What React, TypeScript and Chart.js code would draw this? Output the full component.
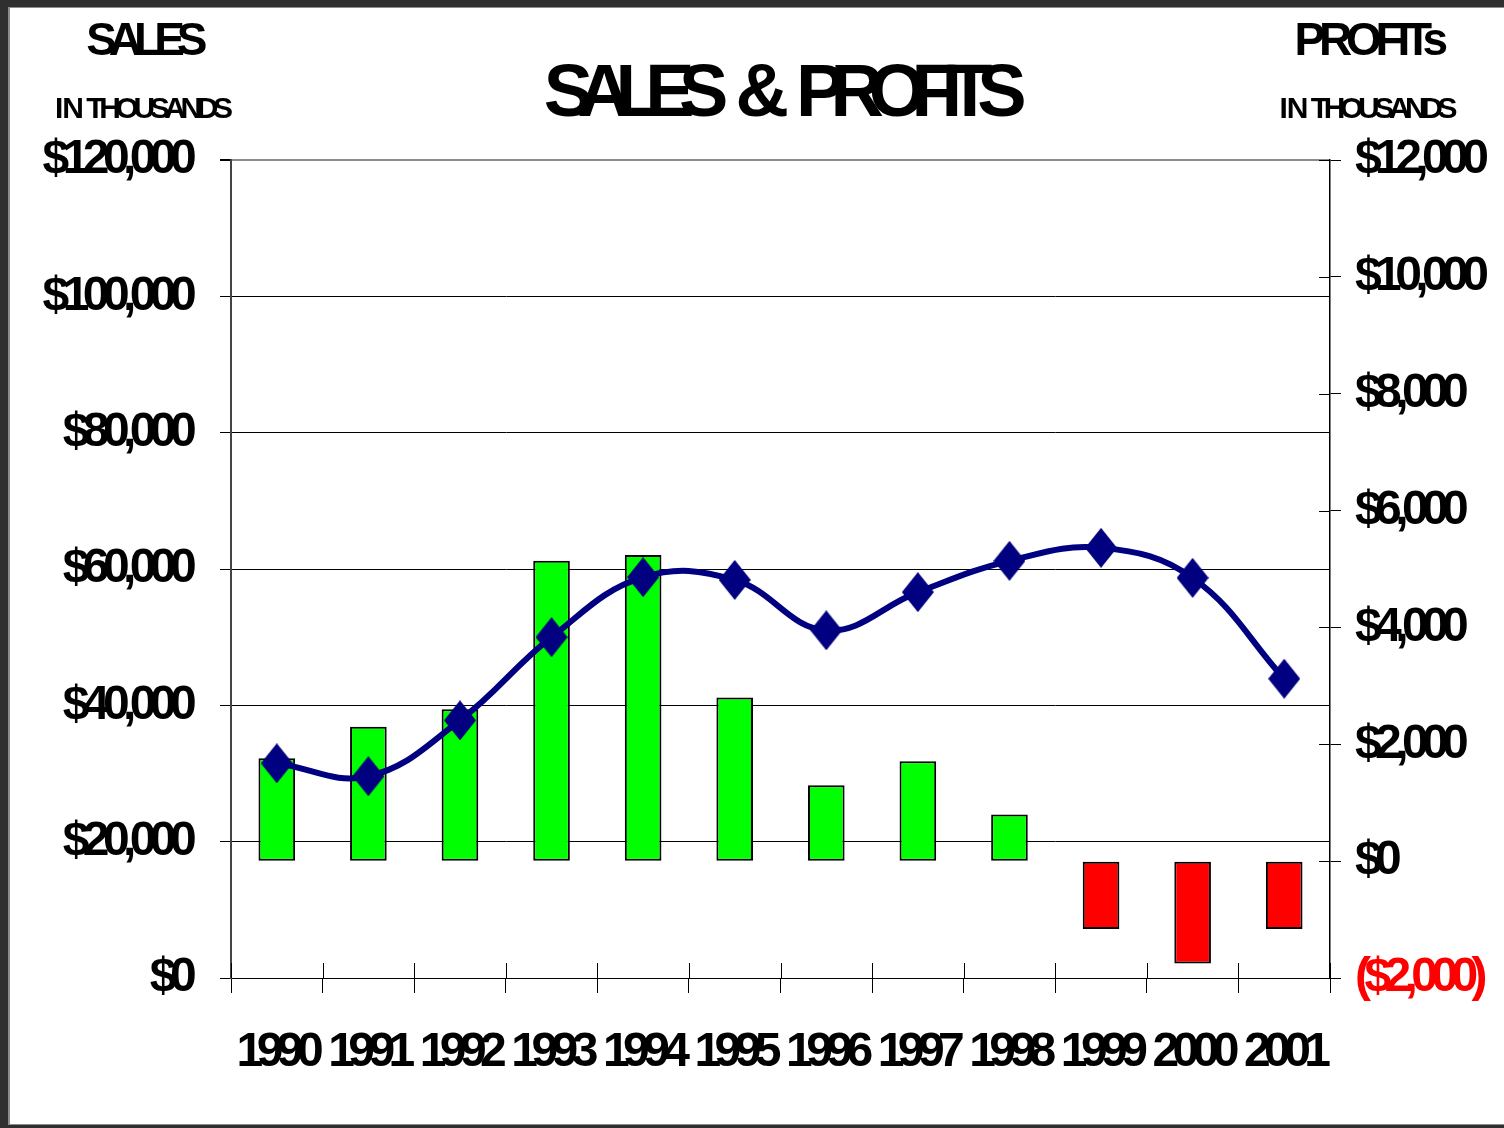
import React, { useEffect, useRef } from 'react';
import { Chart, registerables } from 'chart.js';

Chart.register(...registerables);

// ---- Data ----
const years = ['1990', '1991', '1992', '1993', '1994', '1995', '1996', '1997', '1998', '1999', '2000', '2001'];
// Sales in thousands (left axis, line)
const salesValues = [31500, 29600, 37800, 50000, 58800, 58400, 51000, 56600, 61200, 63100, 58700, 43900];
// Profits in thousands (right axis, bars)
const profitValues = [1760, 2300, 2600, 5140, 5240, 2800, 1300, 1710, 800, -1160, -1750, -1160];

const salesMin = 0;
const salesMax = 120000;
const salesStep = 20000;
const profitMin = -2000;
const profitMax = 12000;
const profitStep = 2000;

const mainTitle = 'SALES & PROFITS';
const leftTitle = 'SALES';
const rightTitle = 'PROFITs';
const unitLabel = 'IN THOUSANDS';

// ---- Styles ----
const FONT = '"Liberation Sans", Arial, Helvetica, sans-serif';
const NAVY = '#000080';
const GREEN = '#00ff00';
const RED = '#ff0000';
const W = 1504;
const H = 1128;

const money = (v: number) =>
  v < 0 ? `($${Math.abs(v).toLocaleString('en-US')})` : `$${v.toLocaleString('en-US')}`;

// Draw text word by word: tight letter spacing inside words (per word if an array is given),
// fixed ink gap between words, whole block centred on cx.
function drawWords(ctx: any, text: string, cx: number, baseline: number, size: number, ls: number | number[], gap: number, color = '#000') {
  ctx.save();
  ctx.font = `bold ${size}px ${FONT}`;
  ctx.textAlign = 'left';
  ctx.textBaseline = 'alphabetic';
  ctx.fillStyle = color;
  const words = text.split(' ');
  const lsOf = (i: number) => (Array.isArray(ls) ? ls[i] ?? ls[ls.length - 1] : ls);
  const metrics = words.map((w, i) => {
    ctx.letterSpacing = `${lsOf(i)}px`;
    return ctx.measureText(w);
  });
  const widths = metrics.map((m: any) => m.actualBoundingBoxRight + m.actualBoundingBoxLeft);
  const total = widths.reduce((a: number, b: number) => a + b, 0) + gap * (words.length - 1);
  let cursor = cx - total / 2;
  words.forEach((w, i) => {
    ctx.letterSpacing = `${lsOf(i)}px`;
    ctx.fillText(w, cursor + metrics[i].actualBoundingBoxLeft, baseline);
    cursor += widths[i] + gap;
  });
  ctx.restore();
}

const framePlugin = {
  id: 'frameAndTitles',
  beforeDraw(chart: any) {
    const ctx = chart.ctx;
    ctx.save();
    ctx.fillStyle = '#2f2f2f';
    ctx.fillRect(0, 0, W, H);
    ctx.fillStyle = '#8c8c8c';
    ctx.fillRect(8, 7, W - 8, 1118);
    ctx.fillStyle = '#ffffff';
    ctx.fillRect(10, 8, W - 10, 1116);
    ctx.restore();
    ctx.letterSpacing = '-6.6px';
  },
  afterDraw(chart: any) {
    const ctx = chart.ctx;
    ctx.letterSpacing = '0px';
    const x = chart.scales.x;
    const y1 = chart.scales.y1;
    ctx.save();
    ctx.strokeStyle = '#000';
    ctx.lineWidth = 1;
    ctx.beginPath();
    const n = x.ticks.length;
    for (let i = 0; i <= n; i++) {
      const px = Math.round(x.left + (x.width * i) / n) + 0.5;
      ctx.moveTo(px, x.top - 15);
      ctx.lineTo(px, x.top);
    }
    y1.ticks.forEach((t: any) => {
      const py = Math.round(y1.getPixelForValue(t.value)) + 0.5;
      ctx.moveTo(y1.left - 11, py);
      ctx.lineTo(y1.left, py);
    });
    ctx.stroke();
    ctx.restore();

    drawWords(ctx, mainTitle, 785, 116, 74, [-15.5, 0, -15], 12.5);
    drawWords(ctx, leftTitle, 146.5, 55, 46, -8, 0);
    drawWords(ctx, unitLabel, 144.5, 118, 30, [-1, -5.4], 4);
    drawWords(ctx, rightTitle, 1372, 55, 46, -6.2, 0);
    drawWords(ctx, unitLabel, 1369, 118, 30, [-1, -5.4], 4);
  },
};

function makeDiamond(w: number, h: number, color: string) {
  const c = document.createElement('canvas');
  c.width = w;
  c.height = h;
  const g = c.getContext('2d')!;
  g.fillStyle = color;
  g.beginPath();
  g.moveTo(w / 2, 0);
  g.lineTo(w, h / 2);
  g.lineTo(w / 2, h);
  g.lineTo(0, h / 2);
  g.closePath();
  g.fill();
  return c;
}

export default function App() {
  const canvasRef = useRef<HTMLCanvasElement | null>(null);

  useEffect(() => {
    if (!canvasRef.current) return;
    const diamond = makeDiamond(32, 40, NAVY);
    const tickFont = { family: FONT, size: 48, weight: 'bold' as const };
    const chart = new Chart(canvasRef.current, {
      type: 'bar',
      data: {
        labels: years,
        datasets: [
          {
            type: 'line',
            label: 'Sales',
            data: salesValues,
            yAxisID: 'y',
            order: 0,
            borderColor: NAVY,
            borderWidth: 6,
            tension: 0.4,
            fill: false,
            pointStyle: diamond as any,
            pointRadius: 16,
            pointBackgroundColor: NAVY,
            pointBorderColor: NAVY,
          } as any,
          {
            type: 'bar',
            label: 'Profits',
            data: profitValues,
            yAxisID: 'y1',
            order: 1,
            backgroundColor: profitValues.map((v) => (v >= 0 ? GREEN : RED)),
            borderColor: '#000',
            borderWidth: 2,
            borderSkipped: false,
            barPercentage: 0.4,
            categoryPercentage: 1,
          } as any,
        ],
      },
      options: {
        responsive: false,
        animation: false,
        devicePixelRatio: 1,
        layout: { padding: { top: 160, left: 0, right: 0, bottom: 0 } },
        plugins: {
          legend: { display: false },
          tooltip: { enabled: false },
          title: { display: false },
        },
        scales: {
          x: {
            offset: true,
            grid: { offset: true, drawOnChartArea: false, drawTicks: true, tickLength: 15, color: '#000', lineWidth: 1 },
            border: { display: true, color: '#000', width: 1 },
            ticks: { font: tickFont, color: '#000', padding: 31, maxRotation: 0, minRotation: 0, autoSkip: false },
            afterFit: (s: any) => {
              s.height = 150;
            },
          },
          y: {
            position: 'left',
            min: salesMin,
            max: salesMax,
            ticks: {
              stepSize: salesStep,
              callback: (v: any) => money(Number(v)),
              font: tickFont,
              color: '#000',
              padding: 30,
            },
            grid: {
              color: (c: any) => (c.tick && c.tick.value === salesMax ? '#8c8c8c' : '#000'),
              lineWidth: (c: any) => (c.tick && c.tick.value === salesMax ? 2 : 1),
              tickColor: '#000',
              tickLength: 11,
            },
            border: { display: true, color: '#444', width: 2 },
            afterFit: (s: any) => {
              s.width = 231;
            },
          },
          y1: {
            position: 'right',
            min: profitMin,
            max: profitMax,
            ticks: {
              stepSize: profitStep,
              callback: (v: any) => money(Number(v)),
              font: tickFont,
              color: (c: any) => (c.tick && c.tick.value < 0 ? RED : '#000'),
              padding: 14,
            },
            grid: { drawOnChartArea: false, drawTicks: true, tickLength: 11, color: '#000', lineWidth: 1 },
            border: { display: true, color: '#000', width: 1.5 },
            afterFit: (s: any) => {
              s.width = W - 1330;
            },
          },
        },
      } as any,
      plugins: [framePlugin as any],
    });
    return () => chart.destroy();
  }, []);

  return (
    <div style={{ position: 'absolute', left: 0, top: 0, width: W, height: H }}>
      <canvas ref={canvasRef} width={W} height={H} style={{ display: 'block', width: W, height: H }} />
    </div>
  );
}
